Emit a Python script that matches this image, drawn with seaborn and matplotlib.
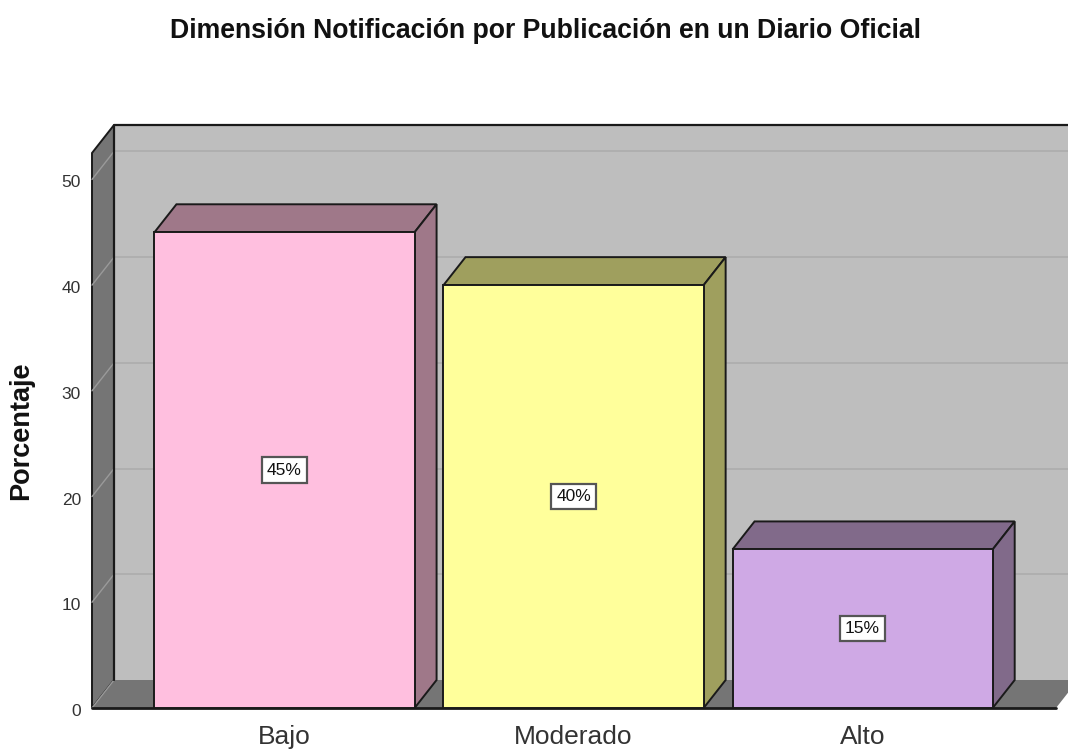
import matplotlib
matplotlib.use("Agg")
import matplotlib.pyplot as plt
from matplotlib.patches import Polygon, Rectangle
from matplotlib.transforms import Affine2D
import pandas as pd
import seaborn as sns

CATEGORIES = ["Bajo", "Moderado", "Alto"]
VALUES = [45, 40, 15]
LABELS = ["45%", "40%", "15%"]
YTICKS = [0, 10, 20, 30, 40, 50]
FRONT_COLORS = ["#FFBFDF", "#FFFF9B", "#CFA9E5"]
TOP_COLORS = ["#9F7889", "#9F9F5E", "#816A8A"]

WALL = "#BEBEBE"
SIDE = "#757575"
GRID = "#ACACAC"
DEPTH_X, DEPTH_Y = 22, 28

W, H = 1068, 749


def add_bar_depth(ax, bar, top_color):
    """Draw the top and right faces of a bar, offset in pixels from its front face."""
    x0, x1 = bar.get_x(), bar.get_x() + bar.get_width()
    h = bar.get_height()
    (px0, py0), (px1, py1) = ax.transData.transform([(x0, 0), (x1, h)])
    top = [(px0, py1), (px1, py1), (px1 + DEPTH_X, py1 + DEPTH_Y), (px0 + DEPTH_X, py1 + DEPTH_Y)]
    right = [(px1, py0), (px1 + DEPTH_X, py0 + DEPTH_Y), (px1 + DEPTH_X, py1 + DEPTH_Y), (px1, py1)]
    for pts in (top, right):
        ax.add_patch(Polygon(pts, closed=True, transform=None, facecolor=top_color,
                             edgecolor="#1a1a1a", linewidth=1.4, zorder=2.5, clip_on=False))


def main():
    sns.set_theme(style="white")
    plt.rcParams["font.family"] = ["Liberation Sans", "DejaVu Sans"]

    df = pd.DataFrame({"categoria": CATEGORIES, "porcentaje": VALUES})

    fig = plt.figure(figsize=(W / 100, H / 100), dpi=100, facecolor="white")
    ax = fig.add_axes([92 / W, 1 - 708 / H, 964 / W, 555 / H])
    ax.patch.set_visible(False)

    sns.barplot(data=df, x="categoria", y="porcentaje", hue="categoria",
                palette=FRONT_COLORS, legend=False, width=0.9, saturation=1,
                edgecolor="#1a1a1a", linewidth=1.4, ax=ax, zorder=3)

    ax.set_xlim(-0.666, 2.669)
    ax.set_ylim(0, 52.5)
    fig.canvas.draw()

    # walls and floor, pushed back by the depth offset
    back = ax.transAxes + Affine2D().translate(DEPTH_X, DEPTH_Y)
    ax.add_patch(Rectangle((0, 0), 1.05, 1, transform=back, facecolor=WALL,
                           edgecolor="none", zorder=0.5, clip_on=False))
    ax.plot([0, 0, 1.05], [0, 1, 1], transform=back, color="#1a1a1a", lw=1.6,
            zorder=1.2, clip_on=False)

    (lx, by) = ax.transAxes.transform((0, 0))
    (rx, ty) = ax.transAxes.transform((1, 1))
    ax.add_patch(Polygon([(lx, by), (lx + DEPTH_X, by + DEPTH_Y), (lx + DEPTH_X, ty + DEPTH_Y), (lx, ty)],
                         closed=True, transform=None, facecolor=SIDE, edgecolor="#1a1a1a",
                         linewidth=1.4, zorder=1, clip_on=False))
    ax.add_patch(Polygon([(lx, by), (lx + DEPTH_X, by + DEPTH_Y), (rx + DEPTH_X, by + DEPTH_Y), (rx, by)],
                         closed=True, transform=None, facecolor=SIDE, edgecolor="none",
                         zorder=1, clip_on=False))
    ax.plot([lx, rx], [by, by], transform=None, color="#1a1a1a", lw=2, zorder=2, clip_on=False)

    # gridlines on the back wall and their diagonals down the left wall
    for v in YTICKS:
        py = ax.transData.transform((0, v))[1]
        if v > 0:
            ax.plot([lx + DEPTH_X, rx + DEPTH_X], [py + DEPTH_Y, py + DEPTH_Y], transform=None,
                    color=GRID, lw=1.2, zorder=0.8, clip_on=False)
        ax.plot([lx, lx + DEPTH_X], [py, py + DEPTH_Y], transform=None,
                color="#9a9a9a", lw=1, zorder=1.1, clip_on=False)

    for bar, color in zip(ax.patches[:len(VALUES)], TOP_COLORS):
        add_bar_depth(ax, bar, color)

    for i, (v, lab) in enumerate(zip(VALUES, LABELS)):
        ax.text(i, v / 2, lab, ha="center", va="center", fontsize=12.5, color="#111111", zorder=5,
                bbox=dict(boxstyle="square,pad=0.3", facecolor="white", edgecolor="#555555", linewidth=1.6))

    for s in ax.spines.values():
        s.set_visible(False)
    ax.set_yticks(YTICKS)
    ax.tick_params(axis="y", length=0, pad=8, labelsize=12.5, labelcolor="#333333")
    ax.tick_params(axis="x", length=0, pad=12, labelsize=19, labelcolor="#333333")
    # tick numbers sit a little below their gridline in the original
    for lab in ax.get_yticklabels():
        lab.set_transform(lab.get_transform() + Affine2D().translate(0, -2))
    ax.set_xlabel("")

    ax.set_ylabel("Porcentaje", fontsize=19.5, fontweight="bold", color="#111111")
    ax.yaxis.set_label_coords(34 / W, 1 - 431 / H, transform=fig.transFigure)

    fig.text(545 / W, 1 - 31 / H, "Dimensión Notificación por Publicación en un Diario Oficial",
             ha="center", va="center", fontsize=19.2, fontweight="bold", color="#111111")

    fig.savefig("out.png", dpi=100, facecolor="white")
    plt.close(fig)


if __name__ == "__main__":
    main()
